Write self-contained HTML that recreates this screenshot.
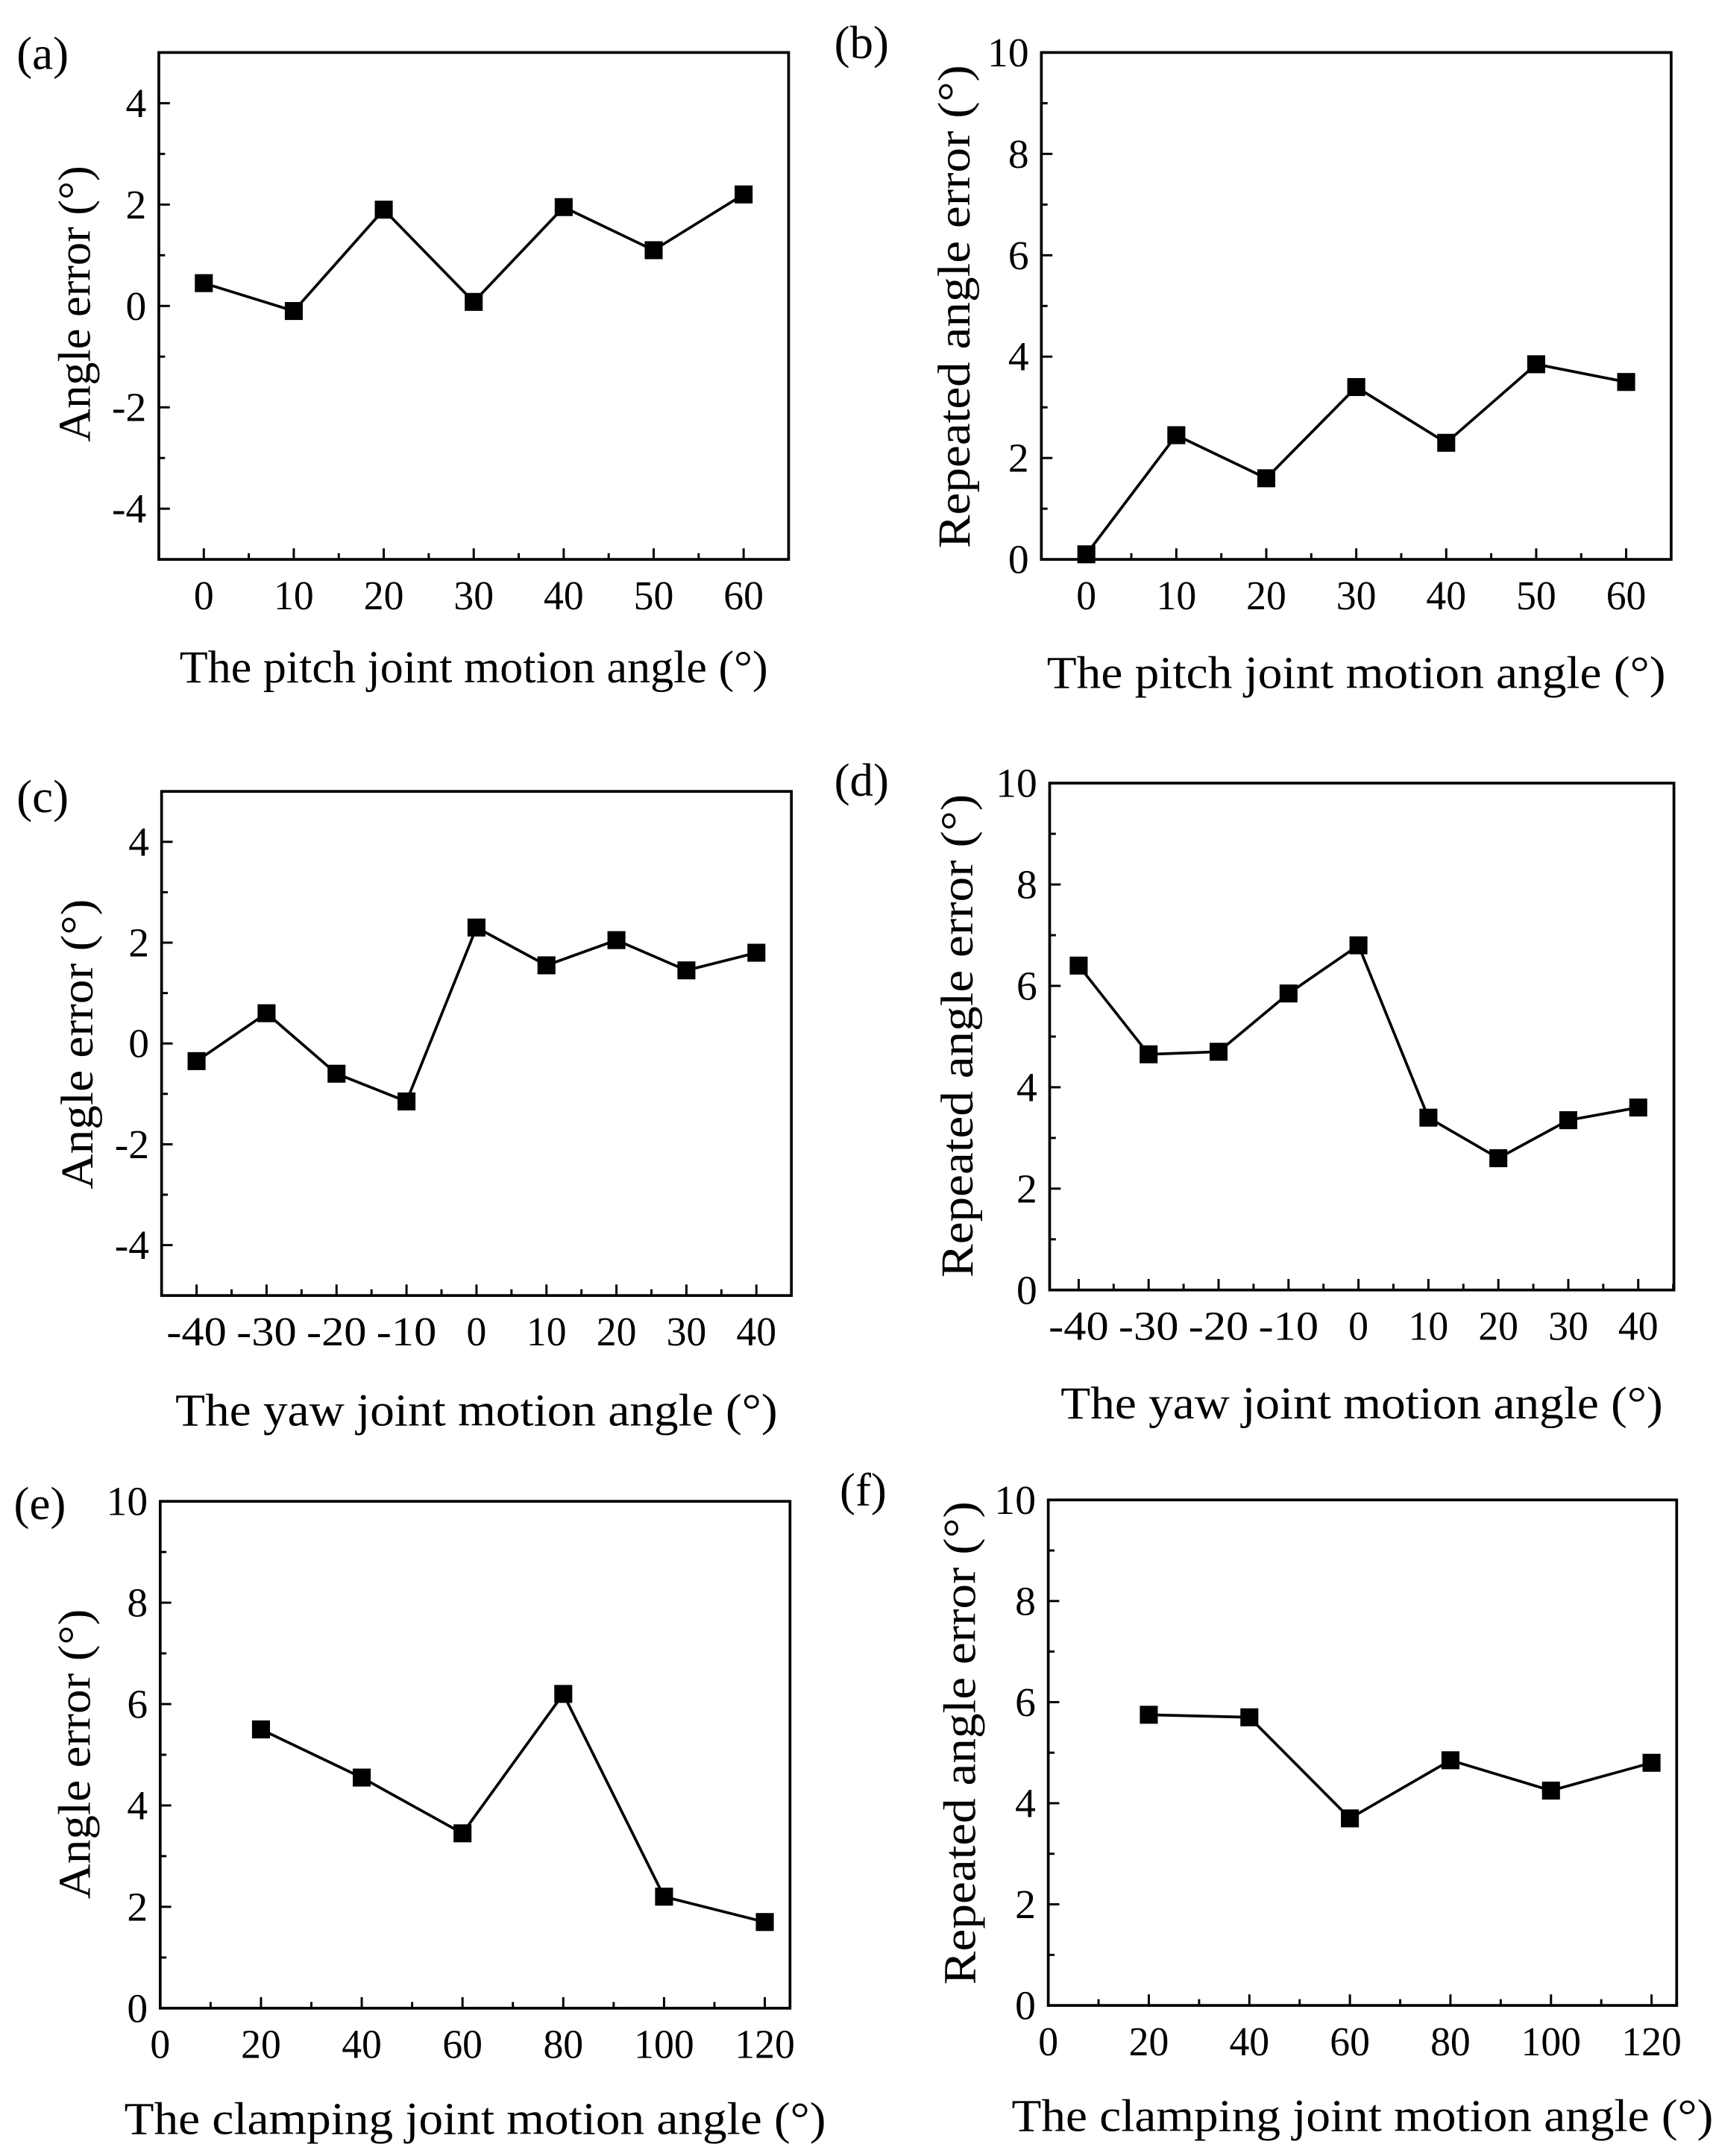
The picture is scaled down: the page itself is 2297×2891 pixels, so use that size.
<!DOCTYPE html>
<html><head><meta charset="utf-8"><style>
html,body{margin:0;padding:0;background:#fff;}
svg{display:block;font-family:"Liberation Serif",serif;}
</style></head><body>
<svg id="fig" width="2297" height="2891" viewBox="0 0 1240.3 1561" xmlns="http://www.w3.org/2000/svg"></svg>
<script>
const xA = [0,10,20,30,40,50,60];
const yA = [0.45,-0.1,1.9,0.08,1.95,1.1,2.2];
const xB = [0,10,20,30,40,50,60];
const yB = [0.1,2.45,1.6,3.4,2.3,3.85,3.5];
const xC = [-40,-30,-20,-10,0,10,20,30,40];
const yC = [-0.35,0.6,-0.6,-1.15,2.3,1.55,2.05,1.45,1.8];
const xD = [-40,-30,-20,-10,0,10,20,30,40];
const yD = [6.4,4.65,4.7,5.85,6.8,3.4,2.6,3.35,3.6];
const xE = [20,40,60,80,100,120];
const yE = [5.5,4.55,3.45,6.2,2.2,1.7];
const xF = [20,40,60,80,100,120];
const yF = [5.75,5.7,3.7,4.85,4.25,4.8];
const ticksXpitch = [0,10,20,30,40,50,60];
const ticksXyaw = [-40,-30,-20,-10,0,10,20,30,40];
const ticksXclamp = [0,20,40,60,80,100,120];
const ticksYerr = [-4,-2,0,2,4];
const ticksYrep = [0,2,4,6,8,10];

const NS="http://www.w3.org/2000/svg";
const svg=document.getElementById('fig');
function mk(tag,attrs,parent){const e=document.createElementNS(NS,tag);for(const k in attrs)e.setAttribute(k,attrs[k]);(parent||svg).appendChild(e);return e;}

const panels=[
 {id:'a',xs:xA,ys:yA,bx:[115,571],by:[38,405],xd:[-5,65],yd:[-5,5],xt:ticksXpitch,yt:ticksYerr,ym:1,xm:5,xl:'The pitch joint motion angle (°)',yl:'Angle error (°)',xly:494,yly:55,pl:[12,50],ylc:220,xw:426,yw:200},
 {id:'b',xs:xB,ys:yB,bx:[754,1210],by:[38,405],xd:[-5,65],yd:[0,10],xt:ticksXpitch,yt:ticksYrep,ym:1,xm:5,xl:'The pitch joint motion angle (°)',yl:'Repeated angle error  (°)',xly:498,yly:692,pl:[604,42],ylc:222,xw:448,yw:350},
 {id:'c',xs:xC,ys:yC,bx:[117,573],by:[573,938],xd:[-45,45],yd:[-5,5],xt:ticksXyaw,yt:ticksYerr,ym:1,xm:5,xl:'The yaw joint motion angle (°)',yl:'Angle error (°)',xly:1032,yly:57,pl:[12,588],ylc:756,xw:436,yw:210},
 {id:'d',xs:xD,ys:yD,bx:[760,1212],by:[567,934],xd:[-44.15,45.1],yd:[0,10],xt:ticksXyaw,yt:ticksYrep,ym:1,xm:5,xl:'The yaw joint motion angle (°)',yl:'Repeated angle error  (°)',xly:1027,yly:694,pl:[604,576],ylc:750,xw:436,yw:350},
 {id:'e',xs:xE,ys:yE,bx:[116,572],by:[1087,1454],xd:[0,125],yd:[0,10],xt:ticksXclamp,yt:ticksYrep,ym:1,xm:10,xl:'The clamping joint motion angle (°)',yl:'Angle error (°)',xly:1545,yly:55,pl:[10,1100],ylc:1270,xw:508,yw:210},
 {id:'f',xs:xF,ys:yF,bx:[759,1214],by:[1086,1452],xd:[0,125],yd:[0,10],xt:ticksXclamp,yt:ticksYrep,ym:1,xm:10,xl:'The clamping joint motion angle (°)',yl:'Repeated angle error  (°)',xly:1543,yly:696,pl:[608,1090],ylc:1262,xw:508,yw:350}
];

panels.forEach(p=>{
  const g=mk('g',{});
  
  
  const sx=v=>p.bx[0]+(v-p.xd[0])/(p.xd[1]-p.xd[0])*(p.bx[1]-p.bx[0]);
  const sy=v=>p.by[1]-(v-p.yd[0])/(p.yd[1]-p.yd[0])*(p.by[1]-p.by[0]);
  const box=mk('rect',{x:p.bx[0],y:p.by[0],width:p.bx[1]-p.bx[0],height:p.by[1]-p.by[0],fill:'none',stroke:'#000','stroke-width':2},g);
  
  
  for(let v=p.yd[0];v<=p.yd[1]+1e-9;v+=p.ym){
    const major=p.yt.includes(v);
    if(v===p.yd[0]||v===p.yd[1]){ if(!major) continue; }
    mk('line',{x1:p.bx[0],x2:p.bx[0]+(major?8:4.5),y1:sy(v),y2:sy(v),stroke:'#000','stroke-width':1.6},g);
  }
  p.yt.forEach(v=>{
    const t=mk('text',{x:p.bx[0]-9,y:sy(v)+10,'text-anchor':'end','font-size':30},g);
    t.textContent=v;
    
    
  });
  const first=Math.ceil(p.xd[0]/p.xm)*p.xm;
  for(let v=first;v<=p.xd[1];v+=p.xm){
    const major=p.xt.includes(v);
    if(Math.abs(sx(v)-p.bx[0])<1) continue;
    mk('line',{x1:sx(v),x2:sx(v),y1:p.by[1],y2:p.by[1]-(major?8:4.5),stroke:'#000','stroke-width':1.6},g);
  }
  p.xt.forEach(v=>{
    const t=mk('text',{x:sx(v),y:p.by[1]+36,'text-anchor':'middle','font-size':30,'textLength':String(v).length*14.5,'lengthAdjust':'spacingAndGlyphs'},g);
    t.textContent=v;
    
    
  });
  const pts=p.xs.map((x,i)=>sx(x)+','+sy(p.ys[i])).join(' ');
  const pl=mk('polyline',{points:pts,fill:'none',stroke:'#000','stroke-width':2},g);
  
  
  p.xs.forEach((x,i)=>{
    const r=mk('rect',{x:sx(x)-6.5,y:sy(p.ys[i])-6.5,width:13,height:13,fill:'#000'},g);
    
    
  });
  const xt=mk('text',{x:(p.bx[0]+p.bx[1])/2,y:p.xly,'text-anchor':'middle','font-size':33,'textLength':p.xw,'lengthAdjust':'spacingAndGlyphs'},g);
  xt.textContent=p.xl;
  
  
  const yt=mk('text',{x:0,y:0,'text-anchor':'middle','font-size':33,'textLength':p.yw,'lengthAdjust':'spacingAndGlyphs',transform:'translate('+(p.yly+10)+','+p.ylc+') rotate(-90)'},g);
  yt.textContent=p.yl;
  
  
  const lab=mk('text',{x:p.pl[0],y:p.pl[1],'font-size':34},g);
  lab.textContent='('+p.id+')';
  
  
});
</script>
</body></html>
